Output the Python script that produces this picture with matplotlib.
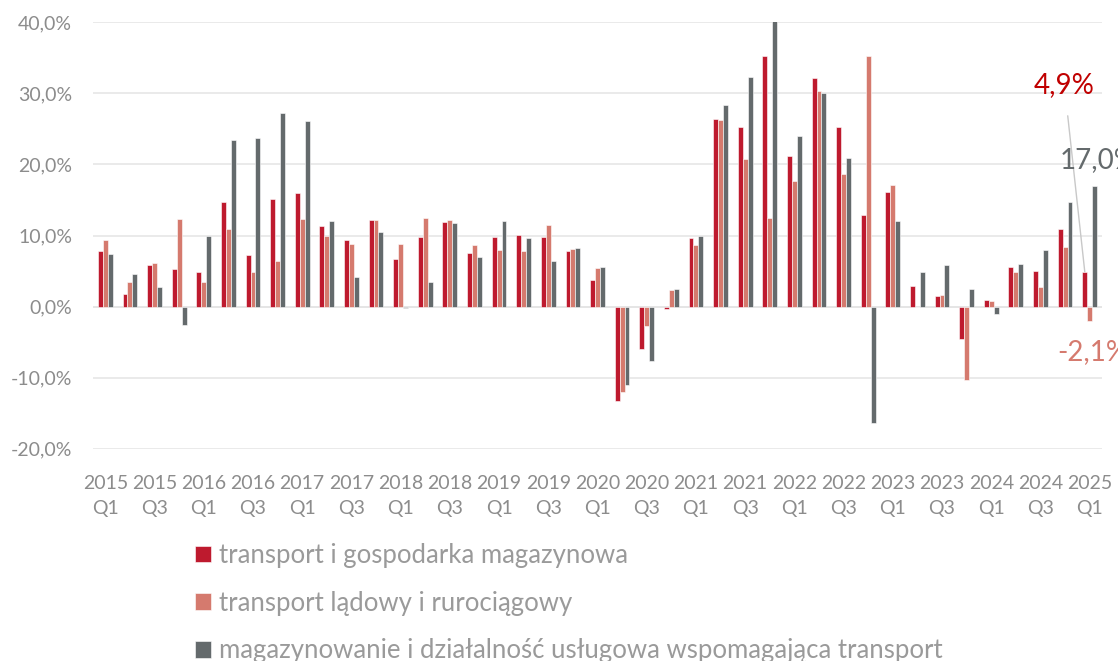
import matplotlib
matplotlib.use('Agg')
import matplotlib.pyplot as plt
import numpy as np

plt.rcParams['font.family'] = ['Lato', 'DejaVu Sans']

years = list(range(2015, 2026))
quarters = [f"{y} Q{q}" for y in years for q in range(1, 5)][:41]

# transport i gospodarka magazynowa
red_vals = [7.8, 1.7, 5.8, 5.3, 4.8, 14.7, 7.2, 15.2,
            16.0, 11.4, 9.3, 12.2, 6.7, 9.8, 11.9, 7.6,
            9.8, 10.1, 9.8, 7.8, 3.8, -13.3, -6.0, -0.4,
            9.7, 26.4, 25.2, 35.2, 21.2, 32.2, 25.2, 12.9,
            16.1, 2.9, 1.5, -4.6, 0.9, 5.6, 5.0, 10.9,
            4.9]
# transport lądowy i rurociągowy
salmon_vals = [9.3, 3.4, 6.1, 12.3, 3.4, 10.9, 4.8, 6.4,
               12.3, 9.9, 8.8, 12.2, 8.8, 12.5, 12.2, 8.6,
               8.0, 7.8, 11.5, 8.1, 5.4, -12.0, -2.8, 2.3,
               8.6, 26.2, 20.8, 12.5, 17.7, 30.3, 18.7, 35.3,
               17.1, 0.0, 1.6, -10.4, 0.8, 4.8, 2.7, 8.4,
               -2.1]
# magazynowanie i działalność usługowa wspomagająca transport
grey_vals = [7.4, 4.6, 2.7, -2.6, 10.0, 23.4, 23.7, 27.2,
             26.1, 12.1, 4.1, 10.5, -0.2, 3.5, 11.7, 7.0,
             12.1, 9.7, 6.4, 8.2, 5.5, -11.1, -7.6, 2.5,
             10.0, 28.4, 32.3, 40.3, 24.0, 30.0, 20.9, -16.4,
             12.1, 4.8, 5.9, 2.5, -1.0, 6.0, 7.9, 14.7,
             17.0]

series_names = ['transport i gospodarka magazynowa',
                'transport lądowy i rurociągowy',
                'magazynowanie i działalność usługowa wspomagająca transport']
colors = ['#BE1A2E', '#D57A6E', '#646A6C']

fig = plt.figure(figsize=(11.18, 6.61), dpi=100)
ax = fig.add_axes([93/1118, 1 - 448.7/661, (1102-93)/1118, (448.7-22.3)/661])

x = np.arange(len(quarters))
w = 0.2
for i, (vals, c) in enumerate(zip([red_vals, salmon_vals, grey_vals], colors)):
    ax.bar(x + (i - 1) * w, vals, width=w, color=c, edgecolor='white',
           linewidth=0.4, label=series_names[i], zorder=3)

ax.set_xlim(-0.5, len(quarters) - 0.5)
ax.set_ylim(-20, 40)
ax.set_yticks(np.arange(-20, 41, 10))
ax.set_yticklabels([f"{v:.1f}%".replace('.', ',') for v in np.arange(-20, 41, 10)])
ax.yaxis.grid(True, color='#E6E6E6', linewidth=1.2, zorder=0)
ax.axhline(0, color='#DDDDDD', linewidth=1.2, zorder=1)

tick_pos = x[::2]
tick_lab = [q.replace(' ', '\n') for q in quarters[::2]]
ax.set_xticks(tick_pos)
ax.set_xticklabels(tick_lab, linespacing=1.55)
ax.tick_params(axis='both', length=0, colors='#8C8C8C', labelsize=14)
ax.tick_params(axis='y', pad=15)
ax.tick_params(axis='x', pad=19)
for s in ax.spines.values():
    s.set_visible(False)

# annotations for latest quarter
last = len(quarters) - 1
ax.annotate(f"{red_vals[-1]:.1f}%".replace('.', ','),
            xy=(last - w, red_vals[-1]), xytext=(38.97, 31.2),
            ha='center', va='center', fontsize=20, color='#C00000',
            arrowprops=dict(arrowstyle='-', color='#C8C8C8', lw=1,
                            shrinkA=11, shrinkB=0),
            annotation_clip=False)
ax.text(38.77, 20.6, f"{grey_vals[-1]:.1f}%".replace('.', ','),
        ha='left', va='center', fontsize=20, color='#646A6C', clip_on=False)
ax.text(38.69, -6.4, f"{salmon_vals[-1]:.1f}%".replace('.', ','),
        ha='left', va='center', fontsize=20, color='#D57A6E', clip_on=False)

handles, labels = ax.get_legend_handles_labels()
leg = fig.legend(handles, labels, loc='upper left', bbox_to_anchor=(195/1118, 1 - 543/661),
                 frameon=False, fontsize=18.5, labelcolor='#9A9A9A', handlelength=0.62,
                 handleheight=0.62, handletextpad=0.3, labelspacing=0.88,
                 borderpad=0, borderaxespad=0)

fig.savefig('out.png', dpi=100)
